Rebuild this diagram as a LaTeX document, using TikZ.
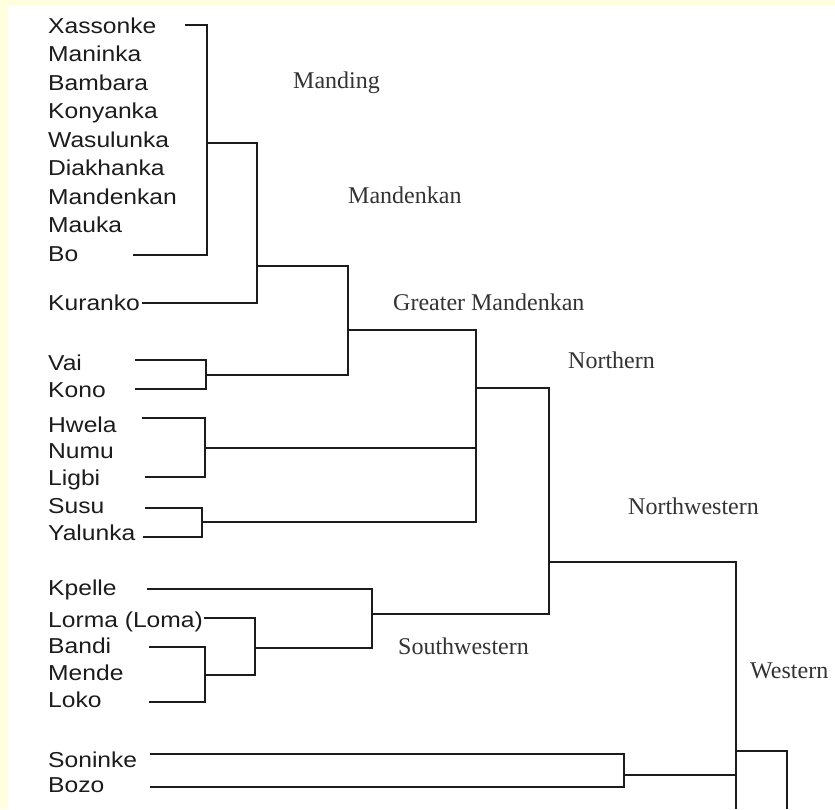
\documentclass[tikz,border=0pt]{standalone}
\usepackage{fontspec}
\newfontfamily\leaffont[FakeStretch=1.14]{Liberation Sans}
\newfontfamily\cladefont{Liberation Serif}
\definecolor{paper}{RGB}{255,255,224}
\definecolor{ink}{RGB}{28,28,28}

\begin{document}
\begin{tikzpicture}[x=1pt,y=-1pt,
    leaf/.style={anchor=base west,inner sep=0pt,text=ink,font=\leaffont\fontsize{21.6}{21.6}\selectfont},
    clade/.style={anchor=base west,inner sep=0pt,text=ink!90,font=\cladefont\fontsize{24}{24}\selectfont},
    branch/.style={draw=ink,line width=2.2pt}]

        \fill[paper] (0,0) rectangle (835,809);
        \fill[white] (8,6) rectangle (835,809);
        \useasboundingbox (0,0) rectangle (835,809);

        \begin{scope}[every node/.style={leaf}]
          \node (xassonke)  at (48,33)    {Xassonke};
          \node (maninka)   at (48,61.5)  {Maninka};
          \node (bambara)   at (48,90)    {Bambara};
          \node (konyanka)  at (48,118.5) {Konyanka};
          \node (wasulunka) at (48,147)   {Wasulunka};
          \node (diakhanka) at (48,175.5) {Diakhanka};
          \node (mandenkan) at (48,204)   {Mandenkan};
          \node (mauka)     at (48,232.5) {Mauka};
          \node (bo)        at (48,261)   {Bo};
          \node (kuranko)   at (48,310)   {Kuranko};
          \node (vai)       at (48,370)   {Vai};
          \node (kono)      at (48,397)   {Kono};
          \node (hwela)     at (48,432)   {Hwela};
          \node (numu)      at (48,458)   {Numu};
          \node (ligbi)     at (48,485)   {Ligbi};
          \node (susu)      at (48,513)   {Susu};
          \node (yalunka)   at (48,540)   {Yalunka};
          \node (kpelle)    at (48,595)   {Kpelle};
          \node (lorma)     at (48,627)   {Lorma (Loma)};
          \node (bandi)     at (48,653)   {Bandi};
          \node (mende)     at (48,680)   {Mende};
          \node (loko)      at (48,707)   {Loko};
          \node (soninke)   at (48,767)   {Soninke};
          \node (bozo)      at (48,792)   {Bozo};
        \end{scope}

        \begin{scope}[every node/.style={clade}]
          \node (c-manding)   at (293,88)  {Manding};
          \node (c-mandenkan) at (348,203) {Mandenkan};
          \node (c-greater)   at (393,310) {Greater Mandenkan};
          \node (c-northern)  at (568,368) {Northern};
          \node (c-northwest) at (628,514) {Northwestern};
          \node (c-southwest) at (398,654) {Southwestern};
          \node (c-western)   at (750,678) {Western};
        \end{scope}

        % leaf tips
        \coordinate (t-xas) at (185,25);
        \coordinate (t-bo)  at (133,255);
        \coordinate (t-kur) at (142,303);
        \coordinate (t-vai) at (135,360);
        \coordinate (t-kon) at (135,389);
        \coordinate (t-hwe) at (142,418);
        \coordinate (t-lig) at (145,477);
        \coordinate (t-sus) at (145,508);
        \coordinate (t-yal) at (143,537);
        \coordinate (t-kpe) at (147,589);
        \coordinate (t-lor) at (204,618);
        \coordinate (t-ban) at (149,647);
        \coordinate (t-lok) at (149,702);
        \coordinate (t-son) at (150,754);
        \coordinate (t-boz) at (150,787);

        % joins
        \coordinate (j1)  at (207,143);
        \coordinate (j2)  at (257,266);
        \coordinate (j3)  at (206,375);
        \coordinate (j4)  at (348,330);
        \coordinate (j5)  at (205,448);
        \coordinate (j6)  at (202,522);
        \coordinate (j7)  at (476,388);
        \coordinate (j8)  at (549,562);
        \coordinate (j9)  at (372,614);
        \coordinate (j10) at (255,648);
        \coordinate (j11) at (205,675);
        \coordinate (j12) at (736,751);
        \coordinate (j13) at (624,775);
        \coordinate (b1)  at (736,809);
        \coordinate (b2)  at (787,809);

        \begin{scope}[every path/.style={branch}]
          \draw (t-xas) -| (j1) |- (t-bo);
          \draw (j1) -| (j2) |- (t-kur);
          \draw (t-vai) -| (j3) |- (t-kon);
          \draw (j2) -| (j4) |- (j3);
          \draw (t-hwe) -| (j5) |- (t-lig);
          \draw (t-sus) -| (j6) |- (t-yal);
          \draw (j4) -| (j7) |- (j6);
          \draw (j5) -- (j5 -| j7);
          \draw (j7) -| (j8) |- (j9);
          \draw (t-kpe) -| (j9) |- (j10);
          \draw (t-lor) -| (j10) |- (j11);
          \draw (t-ban) -| (j11) |- (t-lok);
          \draw (j8) -| (b1);
          \draw (t-son) -| (j13) |- (t-boz);
          \draw (j13) -- (j13 -| j12);
          \draw (j12) -| (b2);
        \end{scope}

      \end{tikzpicture}
\end{document}
